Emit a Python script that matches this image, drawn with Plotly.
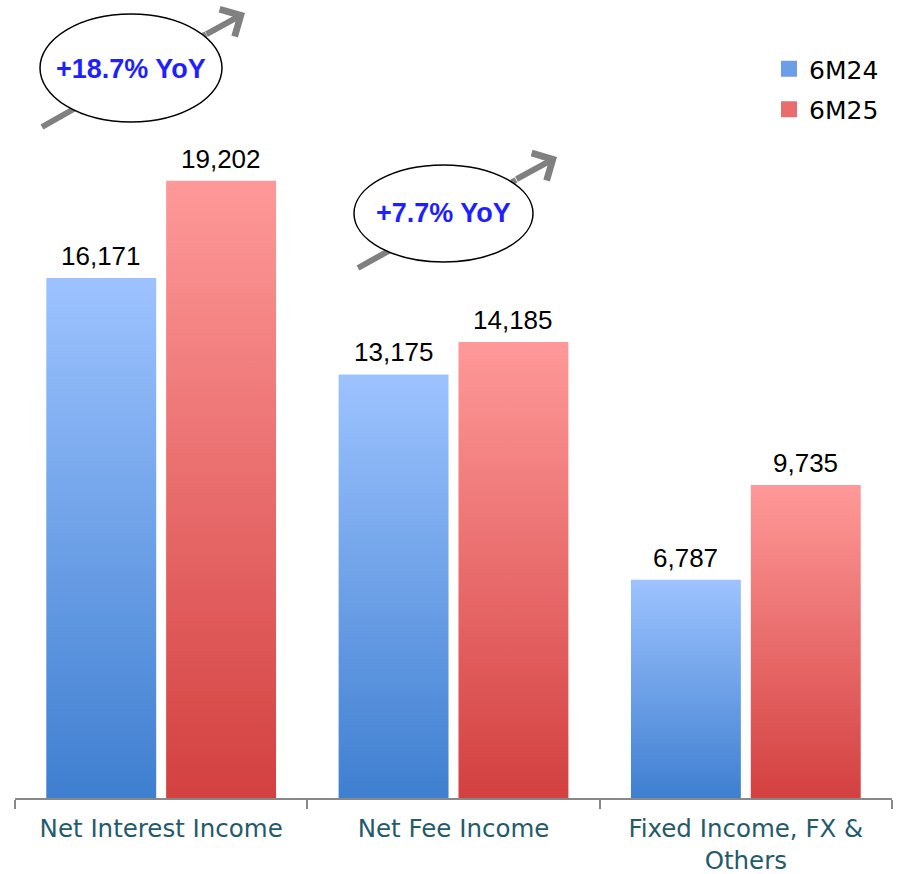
import plotly.graph_objects as go

categories = ["Net Interest Income", "Net Fee Income", "Fixed Income, FX &<br>Others"]
series_names = ["6M24", "6M25"]
values_6m24 = [16171, 13175, 6787]
values_6m25 = [19202, 14185, 9735]
yoy_labels = ["+18.7% YoY", "+7.7% YoY"]

W, H = 899, 874
ML, MR, MT, MB = 15, 7, 10, 76
PW, PH = W - ML - MR, H - MT - MB


def px(x):
    return (x - ML) / PW


def py(y):
    return (H - MB - y) / PH


series = [
    (series_names[0], values_6m24, -0.205, "#3f7fd0", "#9dc3ff", "#6c9ee8"),
    (series_names[1], values_6m25, 0.205, "#d34040", "#ff9999", "#e96d6d"),
]
bar_w = 0.376

fig = go.Figure()
annotations = []

for name, vals, off, dark, light, mid in series:
    for i, v in enumerate(vals):
        c = i + off
        fig.add_trace(go.Scatter(
            x=[c - bar_w / 2, c + bar_w / 2, c + bar_w / 2, c - bar_w / 2, c - bar_w / 2],
            y=[0, 0, v, v, 0],
            mode="lines", line=dict(width=0), fill="toself",
            fillgradient=dict(type="vertical", colorscale=[[0, dark], [1, light]], start=0, stop=v),
            showlegend=False, hoverinfo="skip",
        ))
        annotations.append(dict(xref="x", yref="y", x=c, y=v, text=f"{v:,}",
                                showarrow=False, xanchor="center", yanchor="bottom",
                                yshift=5,
                                font=dict(family="Liberation Sans, Arial", size=26, color="black")))
    fig.add_trace(go.Scatter(x=[None], y=[None], name=name, mode="markers",
                             marker=dict(symbol="square", size=16, color=mid),
                             legendgroup=name, showlegend=True))

# YoY decorations (pixel positions converted to paper)
deco = [
    ((42, 127), (206, 34), (205, 35), (245, 13), (40, 14, 222, 122), (131, 69)),
    ((358, 268), (516, 180), (515, 180), (557, 157), (354, 165, 533, 262), (443, 213)),
]
shapes = []
for k, (p0, p1, t0, t1, box, tc) in enumerate(deco):
    shapes.append(dict(type="line", xref="paper", yref="paper",
                       x0=px(p0[0]), y0=py(p0[1]), x1=px(p1[0]), y1=py(p1[1]),
                       line=dict(color="#808080", width=6)))
    shapes.append(dict(type="circle", xref="paper", yref="paper",
                       x0=px(box[0]), y0=py(box[3]), x1=px(box[2]), y1=py(box[1]),
                       fillcolor="white", line=dict(color="black", width=1.5)))
    annotations.append(dict(xref="paper", yref="paper", x=px(t1[0]), y=py(t1[1]),
                            ax=t0[0] - t1[0], ay=t0[1] - t1[1], text="",
                            showarrow=True, arrowhead=4, arrowsize=1.0,
                            arrowwidth=6, arrowcolor="#808080"))
    annotations.append(dict(xref="paper", yref="paper", x=px(tc[0]), y=py(tc[1]),
                            text=f"<b>{yoy_labels[k]}</b>", showarrow=False,
                            font=dict(family="Liberation Sans, Arial", size=27, color="#1f1fff"),
                            xanchor="center", yanchor="middle"))

fig.update_layout(
    width=W, height=H,
    margin=dict(l=ML, r=MR, t=MT, b=MB, autoexpand=False),
    plot_bgcolor="white", paper_bgcolor="white",
    shapes=shapes, annotations=annotations,
    showlegend=True,
    legend=dict(x=px(769), y=py(46), xanchor="left", yanchor="top",
                font=dict(family="DejaVu Sans", size=25, color="black"),
                tracegroupgap=5, bgcolor="rgba(0,0,0,0)"),
    xaxis=dict(range=[-0.5, 2.5], tickvals=[0, 1, 2], ticktext=categories,
               ticks="outside", ticklen=8, tickcolor="rgba(0,0,0,0)",
               tickfont=dict(family="DejaVu Sans", size=24.5, color="#245b6a"),
               showline=True, linecolor="#888888", linewidth=2,
               showgrid=False, zeroline=False, fixedrange=True, automargin=False,
               minor=dict(tickmode="array", tickvals=[-0.5, 0.5, 1.5, 2.5], ticks="outside",
                          ticklen=9, tickcolor="#888888", tickwidth=2, showgrid=False)),
    yaxis=dict(range=[0, PH / 0.03215], visible=False, showgrid=False, zeroline=False,
               automargin=False, fixedrange=True),
)

fig.write_html("out.html", config={"displayModeBar": False},
               post_script="document.body.style.margin='0';")
